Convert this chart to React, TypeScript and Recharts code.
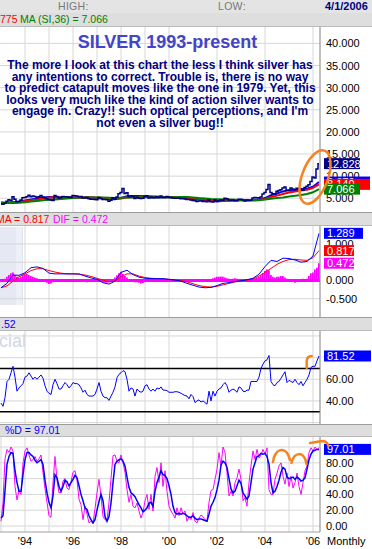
import React from 'react';
import {
  ComposedChart,
  Line,
  Bar,
  XAxis,
  YAxis,
  CartesianGrid,
  ReferenceLine,
} from 'recharts';

const FONT = '"Liberation Sans", Arial, sans-serif';

// monthly bars, Jan 1993 (0) .. Apr 2006 (159)
const monthIdx = Array.from({ length: 160 }, (_, i) => i);
// smooth series sampled every 3rd month
const quarterIdx = Array.from({ length: 54 }, (_, k) => k * 3);

const yearTicks = [0, 12, 24, 36, 48, 60, 72, 84, 96, 108, 120, 132, 144, 156];
const yearLabels = ['', "'94", '', "'96", '', "'98", '', "'00", '', "'02", '', "'04", '', "'06"];

const priceTicks = [5, 10, 15, 20, 25, 30, 35, 40];
const macdTicks = [-0.5, 0, 0.5, 1];
const rsiGrid = [20, 40, 60, 80, 100];
const rsiTicks = [40, 60];
const stochGrid = [0, 20, 40, 60, 80, 100];
const stochTicks = [0, 20, 40, 60, 80];

const silverClose = [
  3.75, 3.65, 3.85, 4.35, 4.65, 4.45, 5.35, 4.8, 4.2, 4.3, 4.6, 5.1,
  5.15, 5.35, 5.7, 5.35, 5.5, 5.4, 5.2, 5.35, 5.6, 5.3, 5.1, 4.9,
  4.75, 4.6, 4.5, 5.65, 5.4, 5.05, 5.2, 5.4, 5.35, 5.35, 5.25, 5.2,
  5.6, 5.55, 5.5, 5.35, 5.4, 5.05, 5.05, 5.15, 4.9, 4.8, 4.8, 4.75,
  4.65, 5.2, 4.95, 4.7, 4.75, 4.65, 4.35, 4.55, 5.1, 4.8, 5.3, 6.0,
  6.3, 7.2, 6.1, 6.25, 5.35, 5.5, 5.4, 4.95, 5.25, 5.0, 4.95, 5.0,
  5.45, 5.55, 5.05, 5.3, 5.1, 5.2, 5.35, 5.2, 5.5, 5.2, 5.2, 5.4,
  5.25, 5.15, 5.05, 5.0, 5.0, 5.05, 4.9, 4.95, 4.85, 4.75, 4.7, 4.6,
  4.5, 4.45, 4.3, 4.4, 4.45, 4.3, 4.25, 4.2, 4.65, 4.2, 4.15, 4.6,
  4.3, 4.45, 4.6, 4.55, 5.0, 4.9, 4.6, 4.55, 4.6, 4.45, 4.45, 4.8,
  4.8, 4.6, 4.4, 4.6, 4.5, 4.55, 5.05, 5.15, 5.1, 5.05, 5.3, 5.95,
  6.3, 7.0, 8.1, 6.3, 6.05, 5.95, 6.6, 6.75, 6.95, 7.3, 7.55, 6.8,
  6.75, 7.35, 7.1, 6.95, 7.25, 7.05, 7.1, 6.8, 7.45, 7.7, 8.05, 8.8,
  9.8, 9.6, 11.6, 12.828,
];

const ma12 = [
  3.9, 3.95, 4.1, 4.25, 4.5, 4.75, 4.95, 5.2, 5.3, 5.25, 5.2, 5.15,
  5.2, 5.2, 5.25, 5.2, 5.05, 4.95, 4.85, 4.8, 5.05, 5.45, 5.5, 5.5,
  5.53, 5.25, 5.2, 5.25, 5.25, 5.2, 5.1, 5.0, 4.85, 4.7, 4.55, 4.4,
  4.35, 4.4, 4.5, 4.55, 4.6, 4.6, 4.6, 4.75, 5.05, 5.7, 6.07, 6.55,
  6.84, 6.84, 7.08, 7.15, 7.62, 8.67,
];
const ma18 = [
  3.95, 3.95, 4.0, 4.15, 4.35, 4.55, 4.75, 4.95, 5.15, 5.25, 5.2, 5.15,
  5.15, 5.2, 5.25, 5.2, 5.15, 5.05, 4.95, 4.85, 4.95, 5.15, 5.3, 5.35,
  5.45, 5.45, 5.4, 5.3, 5.25, 5.25, 5.2, 5.1, 5.0, 4.85, 4.7, 4.55,
  4.45, 4.4, 4.45, 4.5, 4.55, 4.6, 4.6, 4.65, 4.85, 5.3, 5.6, 5.95,
  6.3, 6.55, 6.75, 6.95, 7.35, 8.14,
];
const ma36 = [
  4.1, 4.0, 3.95, 4.0, 4.1, 4.25, 4.4, 4.55, 4.65, 4.75, 4.85, 4.95,
  5.05, 5.15, 5.2, 5.2, 5.2, 5.15, 5.1, 5.05, 5.1, 5.15, 5.2, 5.25,
  5.25, 5.25, 5.25, 5.25, 5.25, 5.25, 5.3, 5.3, 5.2, 5.05, 4.95, 4.85,
  4.8, 4.75, 4.7, 4.65, 4.55, 4.5, 4.5, 4.55, 4.75, 4.9, 5.05, 5.2,
  5.4, 5.55, 5.75, 5.95, 6.35, 7.066,
];

const macdLine = [
  -0.2, -0.08, 0.15, 0.14, 0.21, 0.35, 0.37, 0.33, 0.2, 0.18, 0.18, 0.18,
  0.18, 0.18, 0.12, 0.07, 0.03, -0.06, -0.1, -0.02, 0.22, 0.28, 0.16, 0.09,
  0.06, 0.05, 0.05, 0.05, 0.03, 0.01, -0.02, -0.08, -0.13, -0.18, -0.2, -0.19,
  -0.14, -0.08, -0.06, -0.03, -0.01, 0.02, 0.06, 0.17, 0.38, 0.55, 0.52, 0.61,
  0.6, 0.56, 0.5, 0.52, 0.67, 1.289,
];
const macdSignal = [
  -0.2, -0.15, -0.02, 0.1, 0.18, 0.27, 0.32, 0.32, 0.27, 0.23, 0.2, 0.18,
  0.18, 0.17, 0.15, 0.11, 0.06, 0.01, -0.04, -0.01, 0.1, 0.18, 0.18, 0.12,
  0.08, 0.06, 0.05, 0.04, 0.03, 0.02, 0.0, -0.04, -0.09, -0.14, -0.17, -0.18,
  -0.16, -0.12, -0.08, -0.04, -0.01, 0.01, 0.04, 0.12, 0.22, 0.33, 0.44, 0.52,
  0.57, 0.58, 0.56, 0.55, 0.62, 0.817,
];
const macdDif = [
  0, 0.02, 0.05, 0.1, 0.15, 0.2, 0.22, 0.15, 0.1, 0.08,
  0.1, 0.15, 0.17, 0.18, 0.15, 0.12, 0.1, 0.08, 0.06, 0.04,
  0.02, 0, -0.03, -0.06, -0.1, -0.08, -0.05, -0.03, -0.03, -0.02,
  -0.02, -0.01, 0.01, 0.02, 0.01, 0, 0.01, 0, 0, 0.01,
  0, -0.02, -0.04, -0.05, -0.04, -0.03, -0.03, -0.03, -0.03, -0.02,
  -0.04, -0.05, -0.06, -0.06, -0.05, -0.02, 0.03, 0.08, 0.14, 0.2,
  0.24, 0.18, 0.12, 0.08, 0.03, -0.02, -0.04, -0.05, -0.05, -0.06,
  -0.08, -0.07, -0.05, -0.03, -0.02, -0.01, -0.01, 0, 0.01, 0,
  0, -0.01, -0.02, -0.03, -0.03, -0.02, -0.02, -0.03, -0.02, -0.03,
  -0.03, -0.04, -0.03, -0.04, -0.04, -0.03, -0.03, -0.04, -0.03, -0.02,
  -0.02, -0.01, 0, 0.01, 0.02, 0.04, 0.06, 0.08, 0.1, 0.1,
  0.11, 0.1, 0.08, 0.06, 0.05, 0.04, 0.05, 0.06, 0.05, 0.04,
  0.03, 0.02, 0.02, 0.03, 0.04, 0.05, 0.05, 0.06, 0.08, 0.1,
  0.14, 0.2, 0.26, 0.3, 0.28, 0.15, 0.1, 0.08, 0.1, 0.1,
  0.12, 0.12, 0.08, 0.05, 0.04, 0.03, -0.02, -0.06, -0.04, -0.02,
  0.02, 0.05, 0.04, 0.05, 0.12, 0.2, 0.22, 0.3, 0.35, 0.472,
];

const rsi = [
  38, 35, 43, 58, 60, 66, 72, 62, 49, 52,
  54, 56, 62, 63, 66, 63, 60, 62, 60, 62,
  64, 61, 54, 49, 47, 46, 55, 60, 56, 51,
  51, 54, 57, 55, 52, 54, 57, 56, 56, 55,
  52, 48, 50, 46, 44.5, 44.5, 44.5, 46, 51, 57,
  49, 44.5, 43, 43, 40.5, 44.5, 48, 53, 61.5, 64.6,
  66, 68, 67, 60, 49, 52, 51, 44.5, 51, 49,
  48, 49, 54, 55, 51, 49, 51, 49, 52, 51,
  53, 50, 50, 49.5, 48, 48, 48, 48.5, 48.5, 48,
  47, 46, 45, 44.5, 42, 46, 44, 38.5, 40, 41,
  39, 40, 38.5, 37, 49, 40, 49, 44.5, 49, 51,
  52, 55, 57, 54, 48, 50, 51, 50, 48, 53,
  52, 49, 48.5, 50, 50, 58, 58, 58, 58, 62,
  70, 74, 77, 78, 82, 58, 55, 54, 57, 58,
  61, 64, 67, 57, 59, 58, 57, 60, 57, 55,
  58, 54, 57, 60, 64, 71, 72, 72, 77, 81.52,
];

const stochK = [
  6, 30, 85, 97, 93, 100, 95, 50, 33, 45,
  40, 80, 95, 99, 90, 82, 84, 88, 82, 85,
  90, 68, 47, 30, 13, 11, 55, 88, 58, 42,
  42, 57, 60, 48, 46, 56, 68, 70, 58, 34,
  27, 8, 25, 15, 4, 6, 3, 22, 42, 59,
  38, 12, 8, 7, 30, 60, 89, 90, 82, 80,
  90, 80, 68, 46, 30, 40, 25, 23, 29, 19,
  10, 17, 32, 40, 21, 40, 19, 63, 74, 55,
  80, 50, 70, 44, 25, 19, 15, 10, 23, 13,
  23, 15, 19, 6, 12, 8, 17, 6, 4, 10,
  14, 12, 8, 6, 30, 45, 46, 59, 72, 93,
  76, 100, 93, 67, 38, 44, 38, 55, 61, 72,
  59, 32, 36, 25, 55, 76, 95, 84, 97, 86,
  90, 97, 91, 99, 46, 40, 40, 59, 67, 76,
  80, 63, 53, 67, 50, 63, 48, 55, 67, 50,
  40, 55, 70, 76, 93, 99, 95, 100, 97, 99,
];
const stochD = [
  10, 13, 45, 78, 88, 93, 92, 70, 55, 44,
  44, 65, 84, 93, 93, 90, 88, 83, 80, 82,
  84, 78, 58, 42, 30, 23, 38, 65, 61, 50,
  44, 50, 58, 56, 51, 55, 59, 64, 61, 51,
  40, 32, 23, 21, 13, 8, 4, 8, 20, 31,
  40, 32, 12, 6, 12, 29, 55, 78, 82, 84,
  85, 82, 76, 62, 49, 42, 40, 37, 32, 27,
  23, 18, 20, 23, 29, 30, 25, 44, 55, 62,
  70, 65, 64, 60, 51, 40, 25, 17, 15, 16,
  15, 16, 15, 13, 11, 11, 13, 10, 8, 9,
  9, 8, 7, 6, 15, 25, 30, 36, 46, 58,
  77, 82, 80, 74, 60, 47, 42, 44, 51, 58,
  54, 42, 38, 34, 38, 55, 72, 80, 88, 89,
  92, 91, 92, 88, 78, 55, 42, 44, 50, 58,
  68, 74, 72, 62, 60, 61, 62, 59, 62, 60,
  57, 58, 61, 72, 84, 91, 95, 96, 97, 97.01,
];

const priceRows = monthIdx.map((i) => ({ i, close: silverClose[i] }));
const maRows = quarterIdx.map((i, k) => ({ i, fast: ma12[k], mid: ma18[k], slow: ma36[k] }));
const macdRows = quarterIdx.map((i, k) => ({ i, macd: macdLine[k], signal: macdSignal[k] }));
const difRows = monthIdx.map((i) => ({ i, dif: macdDif[i] }));
const rsiRows = monthIdx.map((i) => ({ i, rsi: rsi[i] }));
const stochRows = monthIdx.map((i) => ({ i, k: stochK[i], d: stochD[i] }));

const last = (a: number[]) => a[a.length - 1];

type ValueBox = { v: number; text: string; fill: string; w: number };

const priceBoxes: ValueBox[] = [
  { v: last(silverClose), text: '12.828', fill: '#000080', w: 36 },
  { v: last(ma12), text: last(ma12).toFixed(3), fill: '#0000ff', w: 46 },
  { v: last(ma18), text: last(ma18).toFixed(3), fill: '#ff0000', w: 46 },
  { v: last(ma36), text: last(ma36).toFixed(3), fill: '#008000', w: 36 },
];
const macdBoxes: ValueBox[] = [
  { v: last(macdLine), text: '1.289', fill: '#0000ff', w: 39 },
  { v: last(macdSignal), text: '0.817', fill: '#ff0000', w: 30 },
  { v: last(macdDif), text: '0.472', fill: '#ff00ff', w: 30 },
];
const rsiBoxes: ValueBox[] = [{ v: last(rsi), text: '81.52', fill: '#0000ff', w: 47 }];
const stochBoxes: ValueBox[] = [{ v: last(stochD), text: '97.01', fill: '#0000ff', w: 47 }];

// right axis tick: plain label, or a coloured last-value box drawn after the labels
const makeTick = (boxes: ValueBox[], fmt: (v: number) => string) => (props: any) => {
  const { x, y, payload } = props;
  const box = boxes.find((b) => b.v === payload.value);
  if (box) {
    return (
      <g>
        <rect x={x - 2} y={y - 5.5} width={box.w} height={11} fill={box.fill} />
        <text x={x + 1} y={y + 4} fontSize={11} fill="#fff" fontFamily={FONT}>
          {box.text}
        </text>
      </g>
    );
  }
  return (
    <text x={x} y={y + 4} fontSize={11} fill="#000" fontFamily={FONT}>
      {fmt(payload.value)}
    </text>
  );
};

const YearTick = (props: any) => {
  const { x, y, payload } = props;
  const label = yearLabels[yearTicks.indexOf(payload.value)] ?? '';
  return (
    <text x={x} y={y + 13} textAnchor="middle" fontSize={11} fill="#000" fontFamily={FONT}>
      {label}
    </text>
  );
};

const gridColor = '#d6d6d6';
const axisColor = '#808080';

const hiddenX = (
  <XAxis type="number" dataKey="i" domain={[-0.5, 159.5]} ticks={yearTicks} hide allowDataOverflow />
);

const grid = (values: number[]) => (
  <CartesianGrid stroke={gridColor} horizontalValues={values} verticalValues={yearTicks} />
);

const rightAxis = (domain: number[], ticks: number[], boxes: ValueBox[], fmt: (v: number) => string) => (
  <YAxis
    orientation="right"
    width={52}
    domain={domain}
    ticks={[...ticks, ...boxes.map((b) => b.v)]}
    allowDataOverflow
    interval={0}
    tickLine={false}
    tickSize={0}
    tickMargin={6}
    axisLine={{ stroke: axisColor }}
    tick={makeTick(boxes, fmt)}
  />
);

const bar = (top: number, height: number): React.CSSProperties => ({
  position: 'absolute',
  left: 0,
  top,
  width: 372,
  height,
  boxSizing: 'border-box',
  background: '#dedede',
  borderTop: '1px solid #9c9c9c',
  borderBottom: '1px solid #b8b8b8',
  fontSize: 10.5,
  lineHeight: `${height - 2}px`,
  whiteSpace: 'nowrap',
  overflow: 'hidden',
});

const abs = (left: number, top: number): React.CSSProperties => ({ position: 'absolute', left, top });

export default function App() {
  return (
    <div style={{ position: 'relative', width: 372, height: 549, background: '#fff', fontFamily: FONT, overflow: 'hidden' }}>
      <style>{'body{margin:0}'}</style>

      {/* header */}
      <div style={{ ...bar(0, 14), borderTop: 'none', background: '#e4e4e4', borderBottom: '1px solid #9c9c9c' }}>
        <span style={{ ...abs(58, 0), color: '#777', fontSize: 10.5, letterSpacing: 0.3 }}>HIGH:</span>
        <span style={{ ...abs(218, 0), color: '#777', fontSize: 10.5, letterSpacing: 0.3 }}>LOW:</span>
        <span style={{ ...abs(325, 0), color: '#000080', fontSize: 11, fontWeight: 'bold' }}>4/1/2006</span>
      </div>
      <div style={{ ...bar(13, 14), borderTop: 'none' }}>
        <span style={{ ...abs(0, 0), color: '#ff0000' }}>775</span>
        <span style={{ ...abs(20, 0), color: '#008000' }}>MA (SI,36) = 7.066</span>
      </div>

      {/* watermarks */}
      <div style={{ ...abs(0, 227), width: 16, height: 78, background: '#e6e8f3' }} />
      <div style={{ ...abs(16, 227), width: 6, height: 78, background: '#eef0f7', borderRight: '1px solid #e0e2ee' }} />
      <div style={{ ...abs(-1, 331), fontSize: 18, color: '#d2d5e6', lineHeight: '20px' }}>cial</div>

      {/* price panel */}
      <div style={abs(0, 27)}>
        <ComposedChart width={372} height={185} data={priceRows} margin={{ top: 0, right: 0, bottom: 0, left: 0 }}>
          {grid(priceTicks)}
          {hiddenX}
          {rightAxis([1.9, 43.7], priceTicks, priceBoxes, (v) => v.toFixed(3))}
          <Line data={maRows} dataKey="fast" stroke="#0000ff" strokeWidth={2} dot={false} isAnimationActive={false} />
          <Line data={maRows} dataKey="mid" stroke="#ff0000" strokeWidth={2} dot={false} isAnimationActive={false} />
          <Line data={maRows} dataKey="slow" stroke="#008000" strokeWidth={2} dot={false} isAnimationActive={false} />
          <Line dataKey="close" type="step" stroke="#000080" strokeWidth={1.5} dot={false} isAnimationActive={false} />
        </ComposedChart>
      </div>

      <div style={bar(212, 14)}>
        <span style={{ ...abs(-4, 0), color: '#ff0000' }}>MA = 0.817</span>
        <span style={{ ...abs(53, 0), color: '#ff00ff' }}>DIF = 0.472</span>
      </div>

      {/* MACD panel */}
      <div style={abs(0, 226)}>
        <ComposedChart width={372} height={91} data={difRows} margin={{ top: 0, right: 0, bottom: 0, left: 0 }}>
          {grid(macdTicks)}
          {hiddenX}
          {rightAxis([-1, 1.49], macdTicks, macdBoxes, (v) => v.toFixed(3))}
          <ReferenceLine y={0} stroke="#ff00ff" strokeWidth={3} />
          <Bar dataKey="dif" fill="#ff00ff" barSize={2} isAnimationActive={false} />
          <Line data={macdRows} dataKey="signal" stroke="#ff0000" strokeWidth={1} dot={false} isAnimationActive={false} />
          <Line data={macdRows} dataKey="macd" stroke="#0000ff" strokeWidth={1} dot={false} isAnimationActive={false} />
        </ComposedChart>
      </div>

      <div style={bar(317, 14)}>
        <span style={{ ...abs(1, 0), color: '#0000ff' }}>.52</span>
      </div>

      {/* RSI panel */}
      <div style={abs(0, 331)}>
        <ComposedChart width={372} height={93} data={rsiRows} margin={{ top: 0, right: 0, bottom: 0, left: 0 }}>
          {grid(rsiGrid)}
          {hiddenX}
          {rightAxis([18.7, 104.6], rsiTicks, rsiBoxes, (v) => v.toFixed(2))}
          <ReferenceLine y={70} stroke="#000" strokeWidth={1.5} />
          <ReferenceLine y={30} stroke="#000" strokeWidth={1.5} />
          <Line dataKey="rsi" stroke="#0000ff" strokeWidth={1} dot={false} isAnimationActive={false} />
        </ComposedChart>
      </div>

      <div style={bar(424, 13)}>
        <span style={{ ...abs(5, 0), color: '#0000ff' }}>%D = 97.01</span>
      </div>

      {/* stochastics panel */}
      <div style={abs(0, 437)}>
        <ComposedChart width={372} height={112} data={stochRows} margin={{ top: 0, right: 0, bottom: 0, left: 0 }}>
          {grid(stochGrid)}
          <XAxis
            type="number"
            dataKey="i"
            domain={[-0.5, 159.5]}
            ticks={yearTicks}
            interval={0}
            allowDataOverflow
            height={17}
            tickLine={false}
            tickSize={0}
            tickMargin={0}
            axisLine={{ stroke: '#a0a0a0' }}
            tick={<YearTick />}
          />
          {rightAxis([-7.6, 112.7], stochTicks, stochBoxes, (v) => v.toFixed(2))}
          <Line dataKey="k" stroke="#ff00ff" strokeWidth={1} dot={false} isAnimationActive={false} />
          <Line dataKey="d" stroke="#0000ff" strokeWidth={1.5} dot={false} isAnimationActive={false} />
        </ComposedChart>
      </div>
      <div style={{ ...abs(327, 535), fontSize: 11, color: '#000' }}>Monthly</div>

      {/* commentary */}
      <div style={{ ...abs(0, 32), width: 335, textAlign: 'center', fontSize: 18, fontWeight: 'bold', color: '#4444c6', lineHeight: '20px' }}>
        SILVER 1993-present
      </div>
      <div style={{ ...abs(0, 60), width: 320, textAlign: 'center', fontSize: 12, fontWeight: 'bold', color: '#000080', lineHeight: '11.5px', whiteSpace: 'nowrap' }}>
        <div>The more I look at this chart the less I think silver has</div>
        <div>any intentions to correct. Trouble is, there is no way</div>
        <div>to predict catapult moves like the one in 1979. Yet, this</div>
        <div>looks very much like the kind of action silver wants to</div>
        <div>engage in. Crazy!! such optical perceptions, and I'm</div>
        <div>not even a silver bug!!</div>
      </div>

      {/* hand drawn annotations */}
      <svg width={372} height={549} style={{ position: 'absolute', left: 0, top: 0, pointerEvents: 'none' }}>
        <g fill="none" stroke="#f7821e" strokeWidth={2.5} strokeLinecap="round">
          <ellipse cx={315} cy={177} rx={13} ry={28} transform="rotate(20 315 177)" />
          <path d="M306.7 368 L306.7 361 Q307 356 311.7 356" />
          <path d="M273 462 C274 449 286 444 290 460" />
          <path d="M291.5 463 C294 452 304 450 306.5 464" />
          <path d="M310 443 L322 441 Q327 441 328.5 446" />
        </g>
      </svg>
    </div>
  );
}
